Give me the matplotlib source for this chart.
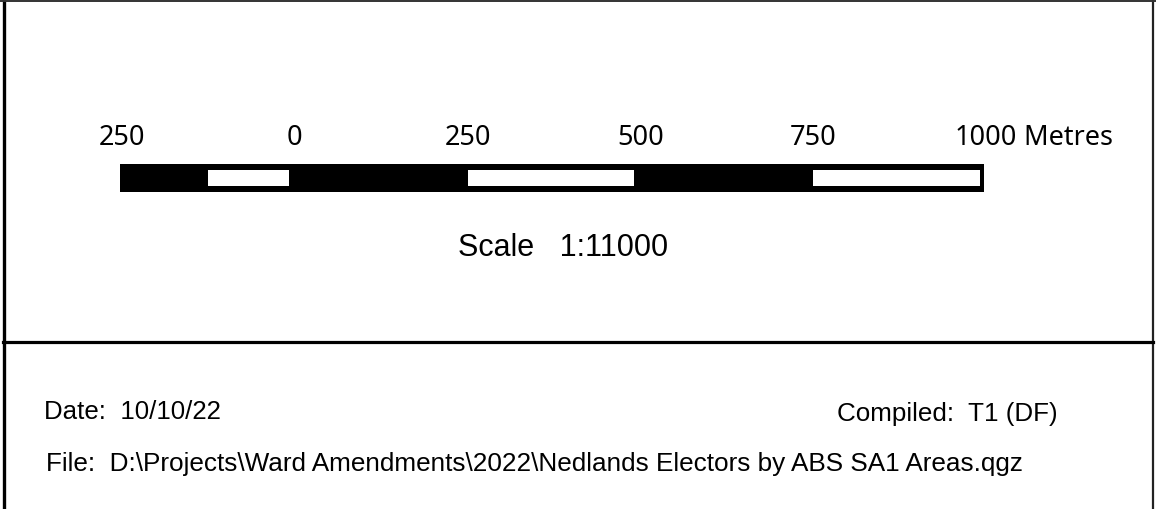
import matplotlib
matplotlib.use("Agg")
from matplotlib import pyplot as plt

# scale bar data (metres)
tick_values = [-250, 0, 250, 500, 750, 1000]
tick_labels = ["250", "0", "250", "500", "750", "1000"]
seg_edges = [-250, -125, 0, 250, 500, 750, 1000]
seg_colors = ["black", "white", "black", "white", "black", "white"]
unit_label = "Metres"
scale_text = "Scale   1:11000"
date_text = "Date:  10/10/22"
compiled_text = "Compiled:  T1 (DF)"
file_text = "File:  D:\\Projects\\Ward Amendments\\2022\\Nedlands Electors by ABS SA1 Areas.qgz"

W, H = 1156, 509
fig = plt.figure(figsize=(W / 100, H / 100), dpi=100)

# page frame in pixel coords
ax = fig.add_axes([0, 0, 1, 1])
ax.set_xlim(0, W)
ax.set_ylim(H, 0)
ax.axis("off")
ax.plot([3.5, 3.5], [0, H], color="black", lw=2.4, solid_capstyle="butt")
ax.plot([1152.5, 1152.5], [0, H], color="#222222", lw=1.6, solid_capstyle="butt")
ax.plot([0, W], [0.8, 0.8], color="#333333", lw=1.4)
ax.plot([3, 1153], [342, 342], color="black", lw=2.3)

ax.text(563, 256, scale_text, ha="center", va="baseline",
        family="Liberation Sans", fontsize=22.0)
ax.text(44, 419, date_text, ha="left", va="baseline",
        family="Liberation Sans", fontsize=18.6)
ax.text(1058, 421, compiled_text, ha="right", va="baseline",
        family="Liberation Sans", fontsize=18.7)
ax.text(46, 471, file_text, ha="left", va="baseline",
        family="Liberation Sans", fontsize=18.8)

# scale bar axes in metres
sx0, sx1, sy0, sy1 = 120, 984, 164, 192
sb = fig.add_axes([sx0 / W, 1 - sy1 / H, (sx1 - sx0) / W, (sy1 - sy0) / H])
sb.set_xlim(seg_edges[0], seg_edges[-1])
sb.set_ylim(0, 1)
sb.axis("off")

sb.bar(seg_edges[0], 1, width=seg_edges[-1] - seg_edges[0], bottom=0,
       align="edge", color="black", lw=0)
for i in range(len(seg_colors)):
    if seg_colors[i] == "white":
        left = seg_edges[i] + 3
        right = seg_edges[i + 1] - 6
        sb.bar(left, 0.6, width=right - left, bottom=0.2, align="edge",
               color="white", lw=0)

tr = sb.get_xaxis_transform()
last = None
for v, lab in zip(tick_values, tick_labels):
    last = sb.text(v + 3, (sy1 - 145) / (sy1 - sy0), lab, transform=tr,
                   ha="center", va="baseline", family="Noto Sans", fontsize=19.5)
sb.annotate(" " + unit_label, xy=(1, 0), xycoords=last, ha="left", va="bottom",
            family="Noto Sans", fontsize=19.5)

fig.savefig("out.png", dpi=100)
